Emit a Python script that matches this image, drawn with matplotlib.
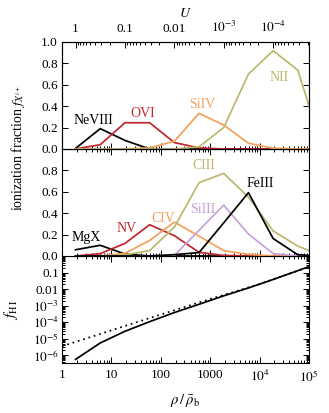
import numpy as np
import matplotlib
matplotlib.use('Agg')
import matplotlib.pyplot as plt
from matplotlib.ticker import FixedLocator, FixedFormatter, LogLocator, NullFormatter

plt.rcParams['font.family'] = ['Liberation Serif', 'DejaVu Serif']
plt.rcParams['mathtext.fontset'] = 'stix'
plt.rcParams['font.size'] = 9.5

# ---- data ----
rho = [1.88, 5.95, 18.8, 59.5, 188, 595, 1880, 5950, 18800, 59500, 188000]
U_norm = 1.88  # U = U_norm / rho

NeVIII = [0.005, 0.19, 0.08, 0.0, 0, 0, 0, 0, 0, 0, 0]
OVI    = [0.0, 0.04, 0.245, 0.245, 0.06, 0.01, 0, 0, 0, 0, 0]
SiIV   = [0, 0, 0, 0.01, 0.072, 0.333, 0.223, 0.054, 0.007, 0, 0]
NII    = [0, 0, 0, 0, 0, 0.02, 0.20, 0.70, 0.918, 0.736, 0.0]

MgX    = [0.058, 0.10, 0.018, 0, 0, 0, 0, 0, 0, 0, 0]
NV     = [0.0, 0.022, 0.117, 0.292, 0.19, 0.034, 0.005, 0, 0, 0, 0]
CIV    = [0, 0.0, 0.025, 0.145, 0.317, 0.185, 0.05, 0.015, 0, 0, 0]
CIII   = [0, 0, 0.01, 0.05, 0.27, 0.685, 0.772, 0.55, 0.234, 0.092, 0.0]
SiIII  = [0, 0, 0, 0, 0.005, 0.24, 0.475, 0.205, 0.022, 0, 0]
FeIII  = [0, 0, 0, 0, 0.012, 0.032, 0.31, 0.592, 0.163, 0.011, 0.0]

fHI_solid = [5.6e-7, 5.5e-6, 2.8e-5, 1.07e-4, 3.8e-4, 1.2e-3, 3.9e-3, 1.17e-2, 3.8e-2, 1.3e-1, 4.5e-1]
rho_dot = [1, 10, 100, 1000, 1e4, 1e5]
fHI_dot = [3.5e-6, 3.2e-5, 2.9e-4, 2.5e-3, 2.0e-2, 2.2e-1]

C_BLACK = 'black'
C_RED = '#c1272d'
C_ORANGE = '#f5a05a'
C_OLIVE = '#bdb76b'
C_LILAC = '#c8a2d6'

top_lines = [(NeVIII, C_BLACK, 'NeVIII', 4.34, 0.264),
             (OVI, C_RED, 'OVI', 43.6, 0.333),
             (SiIV, C_ORANGE, 'SiIV', 682, 0.42),
             (NII, C_OLIVE, 'NII', 24700, 0.667)]
mid_lines = [(MgX, C_BLACK, 'MgX', 3.13, 0.173),
             (NV, C_RED, 'NV', 20.7, 0.256),
             (CIV, C_ORANGE, 'CIV', 111, 0.348),
             (CIII, C_OLIVE, 'CIII', 749, 0.847),
             (SiIII, C_LILAC, 'SiIII', 698, 0.431),
             (FeIII, C_BLACK, 'FeIII', 10190, 0.677)]

fig = plt.figure(figsize=(3.29, 4.13), dpi=100)
left, width = 0.1884, 0.7508
h = 0.2591
ax3 = fig.add_axes([left, 0.1211, width, h])
ax2 = fig.add_axes([left, 0.1211 + h, width, h])
ax1 = fig.add_axes([left, 0.1211 + 2 * h, width, h])

lw = 1.25
for ax in (ax1, ax2, ax3):
    ax.set_xscale('log')
    ax.set_xlim(1, 1e5)
    ax.xaxis.set_major_locator(FixedLocator([1, 10, 100, 1000, 1e4, 1e5]))
    ax.xaxis.set_minor_locator(LogLocator(base=10, subs=np.arange(2, 10), numticks=20))
    ax.tick_params(which='both', direction='in', right=True, top=True, width=0.7)
    ax.tick_params(which='major', length=4)
    ax.tick_params(which='minor', length=2)
    for s in ax.spines.values():
        s.set_linewidth(0.8)

for ax, lines in ((ax1, top_lines), (ax2, mid_lines)):
    for vals, c, name, tx, ty in lines:
        ax.plot(rho, vals, color=c, lw=lw, clip_on=True)
        ax.text(tx, ty, name, color=c, ha='center', va='center', fontsize=10)
    ax.set_ylim(0, 1)
    ax.yaxis.set_major_locator(FixedLocator([0, 0.2, 0.4, 0.6, 0.8, 1.0]))
    ax.xaxis.set_major_formatter(NullFormatter())
    ax.xaxis.set_minor_formatter(NullFormatter())
    ax.tick_params(axis='y', pad=3)

ax1.yaxis.set_major_formatter(FixedFormatter(['0.0', '0.2', '0.4', '0.6', '0.8', '1.0']))
ax2.yaxis.set_major_formatter(FixedFormatter(['0.0', '0.2', '0.4', '0.6', '0.8', '']))
ax1.tick_params(top=False)

# top U axis
axU = ax1.twiny()
axU.set_xscale('log')
axU.set_xlim(U_norm / 1, U_norm / 1e5)
axU.xaxis.set_major_locator(FixedLocator([1, 0.1, 0.01, 1e-3, 1e-4]))
axU.xaxis.set_major_formatter(FixedFormatter(['1', '0.1', '0.01', '$10^{-3}$', '$10^{-4}$']))
axU.xaxis.set_minor_locator(LogLocator(base=10, subs=np.arange(2, 10), numticks=20))
axU.xaxis.set_minor_formatter(NullFormatter())
axU.tick_params(which='both', direction='in', width=0.7, pad=5)
axU.tick_params(which='major', length=4)
axU.tick_params(which='minor', length=2)
axU.set_xlabel('$U$', labelpad=2, fontsize=10)

# bottom panel
ax3.plot(rho, fHI_solid, color='black', lw=lw)
ax3.plot(rho_dot, fHI_dot, color='black', lw=lw, ls=(0, (1, 2.2)))
ax3.set_yscale('log')
ax3.set_ylim(3.4e-7, 1)
ax3.yaxis.set_major_locator(FixedLocator([1e-6, 1e-5, 1e-4, 1e-3, 1e-2, 1e-1]))
ax3.yaxis.set_major_formatter(FixedFormatter(['$10^{-6}$', '$10^{-5}$', '$10^{-4}$', '$10^{-3}$', '0.01', '0.1']))
ax3.yaxis.set_minor_locator(LogLocator(base=10, subs=np.arange(2, 10), numticks=20))
ax3.yaxis.set_minor_formatter(NullFormatter())
ax3.tick_params(axis='y', pad=2)
ax3.xaxis.set_major_formatter(FixedFormatter(['1', '10', '100', '1000', '$10^4$', '$10^5$']))
ax3.xaxis.set_minor_formatter(NullFormatter())
ax3.tick_params(axis='x', pad=4.5)
ax3.set_xlabel(r'$\rho\,/\,\bar{\rho}_{\rm b}$', labelpad=5, fontsize=10.5)
ax3.set_ylabel(r'$f_{\rm H\;I}$', fontsize=10.5)
ax3.yaxis.set_label_coords(-0.17, 0.5)

fig.text(0.055, 1 - 148 / 413, r'ionization fraction $f_{X^{i+}}$', rotation=90,
         ha='center', va='center', fontsize=10)

fig.savefig('out.png', dpi=100)
